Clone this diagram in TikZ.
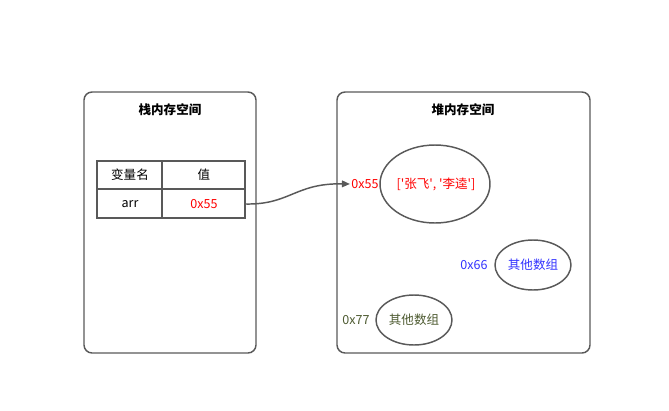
\documentclass[tikz,border=0pt]{standalone}
\usepackage{fontspec}
\setmainfont{Noto Sans CJK SC}
\usetikzlibrary{arrows.meta}
\tikzset{every picture/.style={line width=0.75pt}}
\tikzset{
  frame/.style={draw={rgb, 255:red, 89; green, 89; blue, 89 }, line width=1.1pt, rounded corners=6pt},
  cell/.style={draw={rgb, 255:red, 89; green, 89; blue, 89 }, line width=1.5pt},
  blob/.style={draw={rgb, 255:red, 89; green, 89; blue, 89 }, line width=1.1pt},
  txt/.style={inner sep=0.75pt, font=\fontsize{9.4}{11}\selectfont},
}
\newcommand{\sq}{\textquotesingle}
\begin{document}
\begin{tikzpicture}[x=0.75pt,y=0.75pt,yscale=-1,xscale=1]
\useasboundingbox (0,0) rectangle (669,411);

%Rounded Rect [id:stackframe] 
\draw [frame] (84,92) rectangle (256,353) ;
%Rounded Rect [id:heapframe] 
\draw [frame] (337,92) rectangle (590,353) ;

%Shape: Table [id:vartable] 
\draw [cell] (97,161) rectangle (245,218) ;
\draw [cell] (97,189) -- (245,189) ;
\draw [cell] (162,161) -- (162,218) ;

%Shape: Ellipse [id:arrblob] 
\draw [blob] (435,184) ellipse (55 and 39) ;
%Shape: Ellipse [id:otherblob1] 
\draw [blob] (533,265) ellipse (38 and 25) ;
%Shape: Ellipse [id:otherblob2] 
\draw [blob] (414,320) ellipse (38 and 25) ;

% Text Node
\node (stacktitle) at (170,110) [txt] {\bfseries 栈内存空间};
% Text Node
\node (heaptitle) at (463,110) [txt] {\bfseries 堆内存空间};
% Text Node
\node (namehead) at (130,175) [txt] {变量名};
% Text Node
\node (valhead) at (204,175) [txt] {值};
% Text Node
\node (arrname) at (130,204) [txt] {arr};
% Text Node
\node (arrval) at (204,204) [txt, text=red] {0x55};
% Text Node
\node (addr55) at (365,184) [txt, text=red] {0x55};
% Text Node
\node (arrdata) at (436,184) [txt, text=red] {[\sq 张飞\sq, \sq 李逵\sq]};
% Text Node
\node (addr66) at (474,265) [txt, text={rgb, 255:red, 51; green, 51; blue, 255 }] {0x66};
% Text Node
\node (other1) at (533,265) [txt, text={rgb, 255:red, 51; green, 51; blue, 255 }] {其他数组};
% Text Node
\node (addr77) at (356,320) [txt, text={rgb, 255:red, 77; green, 90; blue, 48 }] {0x77};
% Text Node
\node (other2) at (414,320) [txt, text={rgb, 255:red, 77; green, 90; blue, 48 }] {其他数组};

%Curve Lines [id:pointer] 
\coordinate (ptrstart) at (245,204);
\draw [draw={rgb, 255:red, 89; green, 89; blue, 89 }, line width=1.1pt, -{Triangle[length=6pt,width=5pt]}]
  (ptrstart) .. controls (290,205) and (295,183) .. (addr55.west) ;

\end{tikzpicture}
\end{document}
